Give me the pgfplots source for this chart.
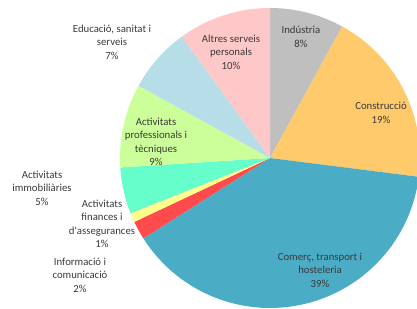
\documentclass[border=0pt]{standalone}
\usepackage{pgfplots}
\pgfplotsset{compat=1.18}
\usepackage{fontspec}
\setmainfont{Carlito}
\definecolor{cInd}{HTML}{BFBFBF}
\definecolor{cCon}{HTML}{FFCA6C}
\definecolor{cCom}{HTML}{4BACC6}
\definecolor{cInf}{HTML}{FF4B4B}
\definecolor{cFin}{HTML}{FFFF8C}
\definecolor{cImm}{HTML}{66FFCC}
\definecolor{cPro}{HTML}{CCFF99}
\definecolor{cEdu}{HTML}{B7DDE8}
\definecolor{cAlt}{HTML}{FFC8C8}
\definecolor{txt}{HTML}{3A3A3A}
\tikzset{lab/.style={font=\fontsize{10.8}{13.6}\selectfont, text=txt, align=center, inner sep=0pt}}
% percentages: 8, 19, 39, 2, 1, 5, 9, 7, 10 (clockwise from top)
\newcommand{\cx}{270}
\newcommand{\cy}{151}
\newcommand{\rr}{150}
\newcommand{\slice}[3]{% colour, start %, end %
  \addplot[fill=#1, draw=none, domain={90-3.6*(#2)}:{90-3.6*(#3)}, samples=60, variable=\t]
    ({\cx+\rr*cos(\t)}, {\cy+\rr*sin(\t)}) -- (axis cs:\cx,\cy) -- cycle;}
\begin{document}
\begin{tikzpicture}
\begin{axis}[
  at={(0,0)}, anchor=origin,
  scale only axis, width=417bp, height=309bp,
  xmin=0, xmax=417, ymin=0, ymax=309,
  axis lines=none, clip=true,
]
\slice{cInd}{0}{8}
\slice{cCon}{8}{27}
\slice{cCom}{27}{66}
\slice{cInf}{66}{68}
\slice{cFin}{68}{69}
\slice{cImm}{69}{74}
\slice{cPro}{74}{83}
\slice{cEdu}{83}{90}
\slice{cAlt}{90}{100}
\node[lab] at (axis cs:301,272) {Indústria\\8\%};
\node[lab] at (axis cs:381,196) {Construcció\\19\%};
\node[lab] at (axis cs:320,39) {Comerç, transport i\\hosteleria\\39\%};
\node[lab] at (axis cs:231,257) {Altres serveis\\personals\\10\%};
\node[lab] at (axis cs:112,267) {Educació, sanitat i\\serveis\\7\%};
\node[lab] at (axis cs:156,167) {Activitats\\professionals i\\tècniques\\9\%};
\node[lab] at (axis cs:42,121) {Activitats\\immobiliàries\\5\%};
\node[lab] at (axis cs:102,85) {Activitats\\finances i\\d\textquotesingle assegurances\\1\%};
\node[lab] at (axis cs:80,34) {Informació i\\comunicació\\2\%};
\end{axis}
\pgfresetboundingbox
\path[use as bounding box] (0,0) rectangle (417bp,309bp);
\end{tikzpicture}
\end{document}
